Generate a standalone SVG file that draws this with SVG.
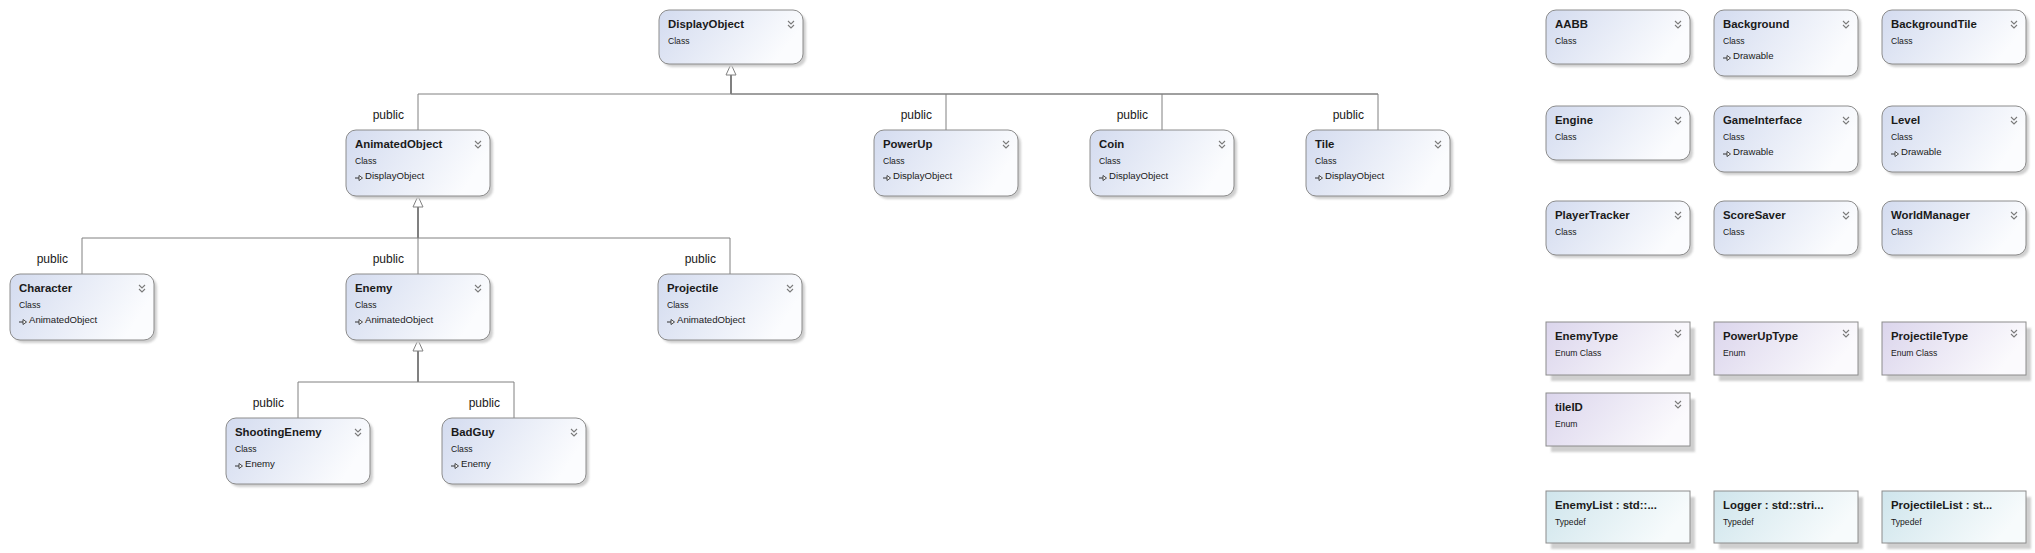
<svg xmlns="http://www.w3.org/2000/svg" xmlns:xlink="http://www.w3.org/1999/xlink" width="2035" height="553" viewBox="0 0 2035 553">
<defs>
<linearGradient id="gCls" x1="0" y1="0" x2="1" y2="0.3">
<stop offset="0" stop-color="#d3dbef"/><stop offset="1" stop-color="#fbfcfe"/>
</linearGradient>
<linearGradient id="gEnum" x1="0" y1="0" x2="1" y2="0.3">
<stop offset="0" stop-color="#dbd5ec"/><stop offset="1" stop-color="#fbfafd"/>
</linearGradient>
<linearGradient id="gTd" x1="0" y1="0" x2="1" y2="0.3">
<stop offset="0" stop-color="#cfe5ec"/><stop offset="1" stop-color="#f7fbfc"/>
</linearGradient>
<filter id="blur" x="-10%" y="-10%" width="120%" height="130%"><feGaussianBlur stdDeviation="1"/></filter>
<g id="chev" fill="none" stroke="#7a7a7a" stroke-width="1.1"><path d="M0,0 L3,3 L6,0 M0,4 L3,7 L6,4"/></g>
<g id="inh"><path d="M0,3 H4" stroke="#333" stroke-width="1"/><path d="M4,0.5 L7.5,3 L4,5.5 Z" fill="#fff" stroke="#333" stroke-width="0.9"/></g>
</defs>
<style>
.sh{fill:#cfcfcf;filter:url(#blur)}
.cls{fill:url(#gCls);stroke:#8c8c8c;stroke-width:1}
.enm{fill:url(#gEnum);stroke:#8c8c8c;stroke-width:1}
.td{fill:url(#gTd);stroke:#8c8c8c;stroke-width:1}
.t{font-family:"Liberation Sans",Arial,sans-serif;font-weight:bold;font-size:11.4px;fill:#1a1a1a}
.k{font-family:"Liberation Sans",Arial,sans-serif;font-size:8.6px;fill:#1a1a1a}
.b{font-family:"Liberation Sans",Arial,sans-serif;font-size:9.6px;fill:#1a1a1a}
.lbl{font-family:"Liberation Sans",Arial,sans-serif;font-size:12px;fill:#1a1a1a;text-anchor:end}
.ln{fill:none;stroke:#808080;stroke-width:1}
.trunk{fill:none;stroke:#808080;stroke-width:2}
.tri{fill:#fff;stroke:#808080;stroke-width:1}
</style>
<rect width="2035" height="553" fill="#fff"/>

<g id="connectors">
<path class="tri" d="M731,64 L736,75 L726,75 Z"/>
<path class="trunk" d="M731,75 V94"/>
<path class="ln" d="M418,94 H1378"/>
<path class="ln" d="M731,94 H1378" stroke-width="1.6"/>
<path class="ln" d="M418,94 V130 M946,94 V130 M1162,94 V130 M1378,94 V130"/>
<path class="tri" d="M418,196 L423,207 L413,207 Z"/>
<path class="trunk" d="M418,207 V238"/>
<path class="ln" d="M82,238 H730 M82,238 V274 M418,238 V274 M730,238 V274"/>
<path class="tri" d="M418,340 L423,351 L413,351 Z"/>
<path class="trunk" d="M418,351 V382"/>
<path class="ln" d="M298,382 H514 M298,382 V418 M514,382 V418"/>
<text class="lbl" x="404" y="119">public</text>
<text class="lbl" x="932" y="119">public</text>
<text class="lbl" x="1148" y="119">public</text>
<text class="lbl" x="1364" y="119">public</text>
<text class="lbl" x="68" y="263">public</text>
<text class="lbl" x="404" y="263">public</text>
<text class="lbl" x="716" y="263">public</text>
<text class="lbl" x="284" y="407">public</text>
<text class="lbl" x="500" y="407">public</text>
</g>

<g id="DisplayObject" transform="translate(659,10)">
<rect class="sh" x="3" y="3" width="144" height="54" rx="10"/>
<rect class="cls" width="144" height="54" rx="10"/>
<text class="t" x="9" y="18">DisplayObject</text>
<text class="k" x="9" y="34">Class</text>
<use href="#chev" x="129" y="11"/>
</g>

<g id="AnimatedObject" transform="translate(346,130)">
<rect class="sh" x="3" y="3" width="144" height="66" rx="10"/>
<rect class="cls" width="144" height="66" rx="10"/>
<text class="t" x="9" y="18">AnimatedObject</text>
<text class="k" x="9" y="34">Class</text>
<use href="#inh" x="9" y="45"/>
<text class="b" x="19" y="49">DisplayObject</text>
<use href="#chev" x="129" y="11"/>
</g>

<g id="PowerUp" transform="translate(874,130)">
<rect class="sh" x="3" y="3" width="144" height="66" rx="10"/>
<rect class="cls" width="144" height="66" rx="10"/>
<text class="t" x="9" y="18">PowerUp</text>
<text class="k" x="9" y="34">Class</text>
<use href="#inh" x="9" y="45"/>
<text class="b" x="19" y="49">DisplayObject</text>
<use href="#chev" x="129" y="11"/>
</g>

<g id="Coin" transform="translate(1090,130)">
<rect class="sh" x="3" y="3" width="144" height="66" rx="10"/>
<rect class="cls" width="144" height="66" rx="10"/>
<text class="t" x="9" y="18">Coin</text>
<text class="k" x="9" y="34">Class</text>
<use href="#inh" x="9" y="45"/>
<text class="b" x="19" y="49">DisplayObject</text>
<use href="#chev" x="129" y="11"/>
</g>

<g id="Tile" transform="translate(1306,130)">
<rect class="sh" x="3" y="3" width="144" height="66" rx="10"/>
<rect class="cls" width="144" height="66" rx="10"/>
<text class="t" x="9" y="18">Tile</text>
<text class="k" x="9" y="34">Class</text>
<use href="#inh" x="9" y="45"/>
<text class="b" x="19" y="49">DisplayObject</text>
<use href="#chev" x="129" y="11"/>
</g>

<g id="Character" transform="translate(10,274)">
<rect class="sh" x="3" y="3" width="144" height="66" rx="10"/>
<rect class="cls" width="144" height="66" rx="10"/>
<text class="t" x="9" y="18">Character</text>
<text class="k" x="9" y="34">Class</text>
<use href="#inh" x="9" y="45"/>
<text class="b" x="19" y="49">AnimatedObject</text>
<use href="#chev" x="129" y="11"/>
</g>

<g id="Enemy" transform="translate(346,274)">
<rect class="sh" x="3" y="3" width="144" height="66" rx="10"/>
<rect class="cls" width="144" height="66" rx="10"/>
<text class="t" x="9" y="18">Enemy</text>
<text class="k" x="9" y="34">Class</text>
<use href="#inh" x="9" y="45"/>
<text class="b" x="19" y="49">AnimatedObject</text>
<use href="#chev" x="129" y="11"/>
</g>

<g id="Projectile" transform="translate(658,274)">
<rect class="sh" x="3" y="3" width="144" height="66" rx="10"/>
<rect class="cls" width="144" height="66" rx="10"/>
<text class="t" x="9" y="18">Projectile</text>
<text class="k" x="9" y="34">Class</text>
<use href="#inh" x="9" y="45"/>
<text class="b" x="19" y="49">AnimatedObject</text>
<use href="#chev" x="129" y="11"/>
</g>

<g id="ShootingEnemy" transform="translate(226,418)">
<rect class="sh" x="3" y="3" width="144" height="66" rx="10"/>
<rect class="cls" width="144" height="66" rx="10"/>
<text class="t" x="9" y="18">ShootingEnemy</text>
<text class="k" x="9" y="34">Class</text>
<use href="#inh" x="9" y="45"/>
<text class="b" x="19" y="49">Enemy</text>
<use href="#chev" x="129" y="11"/>
</g>

<g id="BadGuy" transform="translate(442,418)">
<rect class="sh" x="3" y="3" width="144" height="66" rx="10"/>
<rect class="cls" width="144" height="66" rx="10"/>
<text class="t" x="9" y="18">BadGuy</text>
<text class="k" x="9" y="34">Class</text>
<use href="#inh" x="9" y="45"/>
<text class="b" x="19" y="49">Enemy</text>
<use href="#chev" x="129" y="11"/>
</g>

<g id="AABB" transform="translate(1546,10)">
<rect class="sh" x="3" y="3" width="144" height="54" rx="10"/>
<rect class="cls" width="144" height="54" rx="10"/>
<text class="t" x="9" y="18">AABB</text>
<text class="k" x="9" y="34">Class</text>
<use href="#chev" x="129" y="11"/>
</g>

<g id="Background" transform="translate(1714,10)">
<rect class="sh" x="3" y="3" width="144" height="66" rx="10"/>
<rect class="cls" width="144" height="66" rx="10"/>
<text class="t" x="9" y="18">Background</text>
<text class="k" x="9" y="34">Class</text>
<use href="#inh" x="9" y="45"/>
<text class="b" x="19" y="49">Drawable</text>
<use href="#chev" x="129" y="11"/>
</g>

<g id="BackgroundTile" transform="translate(1882,10)">
<rect class="sh" x="3" y="3" width="144" height="54" rx="10"/>
<rect class="cls" width="144" height="54" rx="10"/>
<text class="t" x="9" y="18">BackgroundTile</text>
<text class="k" x="9" y="34">Class</text>
<use href="#chev" x="129" y="11"/>
</g>

<g id="Engine" transform="translate(1546,106)">
<rect class="sh" x="3" y="3" width="144" height="54" rx="10"/>
<rect class="cls" width="144" height="54" rx="10"/>
<text class="t" x="9" y="18">Engine</text>
<text class="k" x="9" y="34">Class</text>
<use href="#chev" x="129" y="11"/>
</g>

<g id="GameInterface" transform="translate(1714,106)">
<rect class="sh" x="3" y="3" width="144" height="66" rx="10"/>
<rect class="cls" width="144" height="66" rx="10"/>
<text class="t" x="9" y="18">GameInterface</text>
<text class="k" x="9" y="34">Class</text>
<use href="#inh" x="9" y="45"/>
<text class="b" x="19" y="49">Drawable</text>
<use href="#chev" x="129" y="11"/>
</g>

<g id="Level" transform="translate(1882,106)">
<rect class="sh" x="3" y="3" width="144" height="66" rx="10"/>
<rect class="cls" width="144" height="66" rx="10"/>
<text class="t" x="9" y="18">Level</text>
<text class="k" x="9" y="34">Class</text>
<use href="#inh" x="9" y="45"/>
<text class="b" x="19" y="49">Drawable</text>
<use href="#chev" x="129" y="11"/>
</g>

<g id="PlayerTracker" transform="translate(1546,201)">
<rect class="sh" x="3" y="3" width="144" height="54" rx="10"/>
<rect class="cls" width="144" height="54" rx="10"/>
<text class="t" x="9" y="18">PlayerTracker</text>
<text class="k" x="9" y="34">Class</text>
<use href="#chev" x="129" y="11"/>
</g>

<g id="ScoreSaver" transform="translate(1714,201)">
<rect class="sh" x="3" y="3" width="144" height="54" rx="10"/>
<rect class="cls" width="144" height="54" rx="10"/>
<text class="t" x="9" y="18">ScoreSaver</text>
<text class="k" x="9" y="34">Class</text>
<use href="#chev" x="129" y="11"/>
</g>

<g id="WorldManager" transform="translate(1882,201)">
<rect class="sh" x="3" y="3" width="144" height="54" rx="10"/>
<rect class="cls" width="144" height="54" rx="10"/>
<text class="t" x="9" y="18">WorldManager</text>
<text class="k" x="9" y="34">Class</text>
<use href="#chev" x="129" y="11"/>
</g>

<g id="EnemyType" transform="translate(1546,322)">
<rect class="sh" x="5" y="6" width="144" height="53"/>
<rect class="enm" width="144" height="53"/>
<text class="t" x="9" y="18">EnemyType</text>
<text class="k" x="9" y="34">Enum Class</text>
<use href="#chev" x="129" y="8"/>
</g>

<g id="PowerUpType" transform="translate(1714,322)">
<rect class="sh" x="5" y="6" width="144" height="53"/>
<rect class="enm" width="144" height="53"/>
<text class="t" x="9" y="18">PowerUpType</text>
<text class="k" x="9" y="34">Enum</text>
<use href="#chev" x="129" y="8"/>
</g>

<g id="ProjectileType" transform="translate(1882,322)">
<rect class="sh" x="5" y="6" width="144" height="53"/>
<rect class="enm" width="144" height="53"/>
<text class="t" x="9" y="18">ProjectileType</text>
<text class="k" x="9" y="34">Enum Class</text>
<use href="#chev" x="129" y="8"/>
</g>

<g id="tileID" transform="translate(1546,393)">
<rect class="sh" x="5" y="6" width="144" height="53"/>
<rect class="enm" width="144" height="53"/>
<text class="t" x="9" y="18">tileID</text>
<text class="k" x="9" y="34">Enum</text>
<use href="#chev" x="129" y="8"/>
</g>

<g id="EnemyList" transform="translate(1546,491)">
<rect class="sh" x="5" y="6" width="144" height="52"/>
<rect class="td" width="144" height="52"/>
<text class="t" x="9" y="18">EnemyList : std::...</text>
<text class="k" x="9" y="34">Typedef</text>
</g>

<g id="Logger" transform="translate(1714,491)">
<rect class="sh" x="5" y="6" width="144" height="52"/>
<rect class="td" width="144" height="52"/>
<text class="t" x="9" y="18">Logger : std::stri...</text>
<text class="k" x="9" y="34">Typedef</text>
</g>

<g id="ProjectileList" transform="translate(1882,491)">
<rect class="sh" x="5" y="6" width="144" height="52"/>
<rect class="td" width="144" height="52"/>
<text class="t" x="9" y="18">ProjectileList : st...</text>
<text class="k" x="9" y="34">Typedef</text>
</g>
</svg>
